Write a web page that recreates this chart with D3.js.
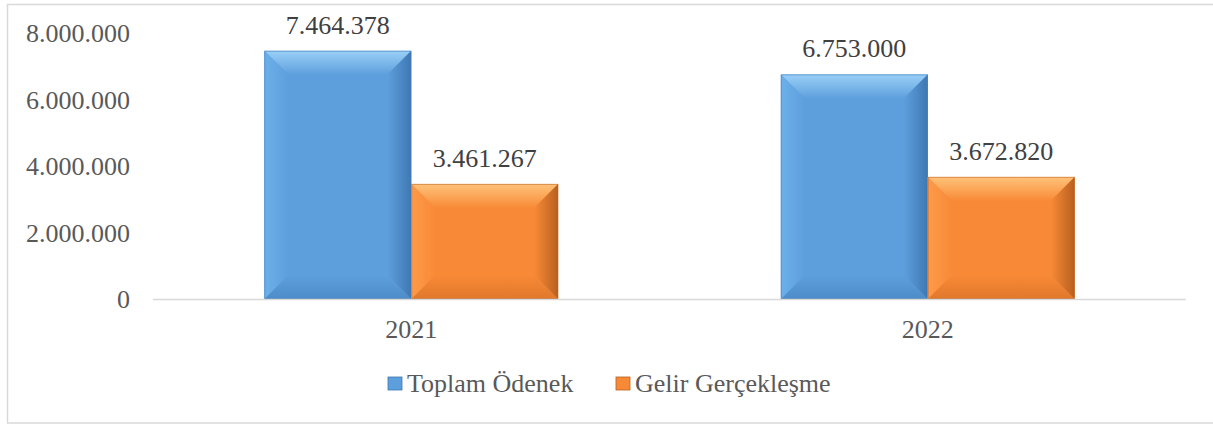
<!DOCTYPE html>
<html><head><meta charset="utf-8"><script src="https://cdn.jsdelivr.net/npm/d3@7"></script></head>
<body style="margin:0">
<svg id="chart" width="1213" height="424"></svg>
<script>
const years = ["2021", "2022"];
const seriesNames = ["Toplam Ödenek", "Gelir Gerçekleşme"];
const toplamOdenek = [7464378, 6753000];
const gelirGerceklesme = [3461267, 3672820];
const yTicks = [0, 2000000, 4000000, 6000000, 8000000];

const colors = {
  "Toplam Ödenek": { base: "#5d9fdd", light: "#9ad0f7", side: "#6cb0ea", dark: "#3f78b3", bottom: "#4d8cc8" },
  "Gelir Gerçekleşme": { base: "#f88a37", light: "#ffc37a", side: "#fd9a4a", dark: "#b8601f", bottom: "#e0782c" }
};

const rows = years.map((y, i) => ({ year: y, values: [toplamOdenek[i], gelirGerceklesme[i]] }));

const svg = d3.select("#chart");
const margin = { top: 33, left: 153, right: 1186, bottom: 299 };
const fmt = v => d3.format(",")(v).replace(/,/g, ".");
const fontSize = 26;

// every label goes through here so the font is set the same way
function label(sel) {
  return sel.style("font-family", '"Liberation Serif"').attr("font-size", fontSize);
}

// outer frame
svg.append("rect")
  .attr("x", 7.5).attr("y", 4.5)
  .attr("width", 1212).attr("height", 418.5)
  .attr("fill", "none").attr("stroke", "#d9d9d9").attr("stroke-width", 1.5);

const y = d3.scaleLinear().domain([0, 8000000]).range([margin.bottom, margin.top]);
const x0 = d3.scaleBand().domain(years).range([margin.left, margin.right]);
const x1 = d3.scaleBand().domain(seriesNames).range([0, x0.bandwidth()])
  .paddingInner(0).paddingOuter(0.758);

// gradients for bevel facets
const defs = svg.append("defs");
seriesNames.forEach((s, k) => {
  const c = colors[s];
  const mk = (id, x1_, y1_, x2_, y2_, a, b) => {
    const g = defs.append("linearGradient").attr("id", id)
      .attr("x1", x1_).attr("y1", y1_).attr("x2", x2_).attr("y2", y2_);
    g.append("stop").attr("offset", "0%").attr("stop-color", a);
    g.append("stop").attr("offset", "100%").attr("stop-color", b);
  };
  mk("top" + k, 0, 0, 0, 1, c.light, c.base);
  mk("bot" + k, 0, 0, 0, 1, c.base, c.bottom);
  mk("lft" + k, 0, 0, 1, 0, c.side, c.base);
  mk("rgt" + k, 0, 0, 1, 0, c.base, c.dark);
});

// y axis labels
svg.append("g")
  .selectAll("text")
  .data(yTicks)
  .join("text")
  .attr("x", 130)
  .attr("y", d => y(d) + 9)
  .attr("text-anchor", "end")
  .attr("fill", "#595959")
  .call(label)
  .text(fmt);

// bars
const groups = svg.append("g")
  .selectAll("g")
  .data(rows)
  .join("g")
  .attr("transform", d => `translate(${x0(d.year)},0)`);

groups.each(function(d) {
  const g = d3.select(this);
  d.values.forEach((v, k) => {
    const s = seriesNames[k];
    const bx = x1(s), bw = x1.bandwidth();
    const by = y(v), bh = y(0) - y(v);
    const b = Math.min(24, bw / 2, bh / 2);
    const bar = g.append("g");
    bar.append("rect")
      .attr("x", bx).attr("y", by).attr("width", bw).attr("height", bh)
      .attr("fill", colors[s].base);
    const x2 = bx + bw, y2 = by + bh;
    const facets = [
      ["top" + k, [[bx, by], [x2, by], [x2 - b, by + b], [bx + b, by + b]]],
      ["bot" + k, [[bx + b, y2 - b], [x2 - b, y2 - b], [x2, y2], [bx, y2]]],
      ["lft" + k, [[bx, by], [bx + b, by + b], [bx + b, y2 - b], [bx, y2]]],
      ["rgt" + k, [[x2 - b, by + b], [x2, by], [x2, y2], [x2 - b, y2 - b]]]
    ];
    facets.forEach(([id, pts]) => {
      bar.append("polygon")
        .attr("points", pts.map(p => p.join(",")).join(" "))
        .attr("fill", `url(#${id})`);
    });
    bar.append("rect")
      .attr("x", bx + 0.5).attr("y", by + 0.5).attr("width", bw - 1).attr("height", bh - 1)
      .attr("fill", "none").attr("stroke", colors[s].dark).attr("stroke-opacity", 0.5);
    g.append("text")
      .attr("x", bx + bw / 2)
      .attr("y", by - 17)
      .attr("text-anchor", "middle")
      .attr("fill", "#404040")
      .call(label)
      .text(fmt(v));
  });
});

// baseline
svg.append("line")
  .attr("x1", margin.left).attr("x2", margin.right)
  .attr("y1", y(0) + 0.5).attr("y2", y(0) + 0.5)
  .attr("stroke", "#d9d9d9").attr("stroke-width", 1.5);

// category labels
svg.append("g")
  .selectAll("text")
  .data(years)
  .join("text")
  .attr("x", d => x0(d) + x0.bandwidth() / 2)
  .attr("y", 338)
  .attr("text-anchor", "middle")
  .attr("fill", "#595959")
  .call(label)
  .text(d => d);

// legend
const legendX = [388, 616];
const legend = svg.append("g")
  .selectAll("g")
  .data(seriesNames)
  .join("g")
  .attr("transform", (d, i) => `translate(${legendX[i]},377)`);
legend.append("rect")
  .attr("width", 14).attr("height", 13)
  .attr("fill", d => colors[d].base)
  .attr("stroke", d => colors[d].dark).attr("stroke-width", 0.8);
legend.append("text")
  .attr("x", 19).attr("y", 15)
  .attr("fill", "#595959")
  .call(label)
  .text(d => d);
</script>
</body>
</html>
